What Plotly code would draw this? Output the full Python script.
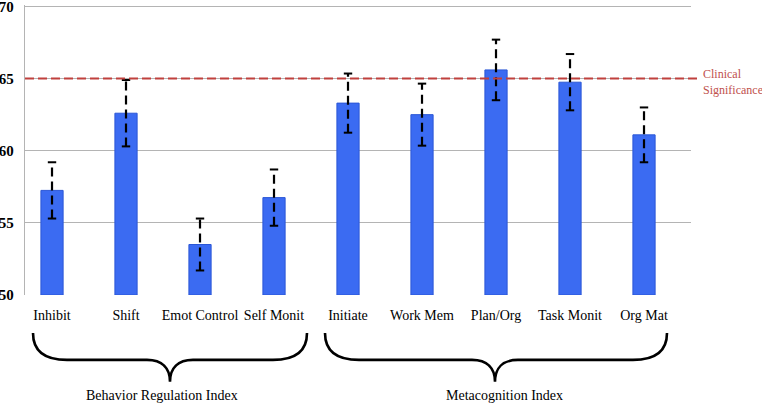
import plotly.graph_objects as go

categories = ["Inhibit", "Shift", "Emot Control", "Self Monit", "Initiate",
              "Work Mem", "Plan/Org", "Task Monit", "Org Mat"]
means = [57.25, 62.6, 53.5, 56.75, 63.3, 62.5, 65.6, 64.75, 61.1]
errors = [1.95, 2.3, 1.8, 1.95, 2.05, 2.15, 2.1, 1.95, 1.9]
clinical_cutoff = 65
y_ticks = [50, 55, 60, 65, 70]
group_labels = ["Behavior Regulation Index", "Metacognition Index"]

W, H = 762, 404
L, R, T, B = 25, 71, 4.5, 109
PW, PH = W - L - R, H - T - B

SERIF = "Palatino Linotype, Book Antiqua, Palatino, Liberation Serif, serif"

def px(x):
    return (x - L) / PW

def py(y):
    return (H - B - y) / PH

xs = list(range(len(categories)))

fig = go.Figure()
fig.add_trace(go.Bar(
    x=xs, y=[m - 50 for m in means], base=50, width=0.3,
    marker=dict(color="#3b6bf2", line=dict(color="#2b57d6", width=1)),
    showlegend=False, hoverinfo="skip",
))

# dashed error bars
ex, ey = [], []
for i, (m, e) in enumerate(zip(means, errors)):
    ex += [i, i, None]
    ey += [m - e, m + e, None]
fig.add_trace(go.Scatter(
    x=ex, y=ey, mode="lines",
    line=dict(color="black", width=2.2, dash="9px,5px"),
    showlegend=False, hoverinfo="skip",
))
cx, cy = [], []
for i, (m, e) in enumerate(zip(means, errors)):
    cx += [i, i]
    cy += [m - e, m + e]
fig.add_trace(go.Scatter(
    x=cx, y=cy, mode="markers",
    marker=dict(symbol="line-ew", size=6, line=dict(color="black", width=2)),
    showlegend=False, hoverinfo="skip",
))

shapes = []
# clinical significance line
shapes.append(dict(type="line", xref="paper", yref="y", x0=0, x1=px(697),
                   y0=clinical_cutoff, y1=clinical_cutoff,
                   line=dict(color="#c0403d", width=2, dash="9px,4px"), layer="above"))

def brace(x0, x1, xm, ytop=333, yh=360, ytip=382):
    pts = [
        ("M", [(x0, ytop)]),
        ("C", [(x0, ytop + 19), (x0 + 12, yh), (x0 + 34, yh)]),
        ("L", [(xm - 23, yh)]),
        ("C", [(xm - 8, yh), (xm, yh + 8), (xm, ytip)]),
        ("C", [(xm, yh + 8), (xm + 8, yh), (xm + 23, yh)]),
        ("L", [(x1 - 34, yh)]),
        ("C", [(x1 - 12, yh), (x1, ytop + 19), (x1, ytop)]),
    ]
    s = ""
    for cmd, ps in pts:
        s += cmd + " " + " ".join(f"{px(a):.5f},{py(b):.5f}" for a, b in ps) + " "
    return dict(type="path", xref="paper", yref="paper", path=s.strip(),
                line=dict(color="black", width=2.6))

shapes.append(brace(33, 307, 170))
shapes.append(brace(325, 667, 495))

annotations = [
    dict(xref="paper", yref="paper", x=px(701), y=py(81.5), xanchor="left", yanchor="middle",
         text="Clinical<br>Significance", showarrow=False, align="left",
         font=dict(family=SERIF, size=12, color="#c0504d")),
    dict(xref="paper", yref="paper", x=px(161.5), y=py(396), xanchor="center", yanchor="middle",
         text=group_labels[0], showarrow=False,
         font=dict(family=SERIF, size=14, color="black")),
    dict(xref="paper", yref="paper", x=px(504), y=py(396), xanchor="center", yanchor="middle",
         text=group_labels[1], showarrow=False,
         font=dict(family=SERIF, size=14, color="black")),
]

fig.update_layout(
    width=W, height=H,
    margin=dict(l=L, r=R, t=T, b=B, pad=0, autoexpand=False),
    paper_bgcolor="white", plot_bgcolor="white",
    shapes=shapes, annotations=annotations,
    showlegend=False,
    xaxis=dict(range=[-0.365, 8.635], tickvals=xs, ticktext=categories,
               showgrid=False, zeroline=False, showline=False, ticks="",
               ticklabelstandoff=10, automargin=False,
               tickfont=dict(family=SERIF, size=14, color="black")),
    yaxis=dict(range=[50, 70.1], tickvals=y_ticks, ticktext=[str(v) for v in y_ticks],
               showgrid=True, gridcolor="#b4b4b4", gridwidth=1.3, zeroline=False,
               showline=True, linecolor="#b4b4b4", linewidth=1.3, ticks="",
               ticklabelstandoff=7, automargin=False, ticklabeloverflow="allow",
               tickfont=dict(family=SERIF, size=15, color="black", weight="bold")),
)

fig.write_html("out.html", config={"displayModeBar": False},
               post_script="document.body.style.margin='0';")
